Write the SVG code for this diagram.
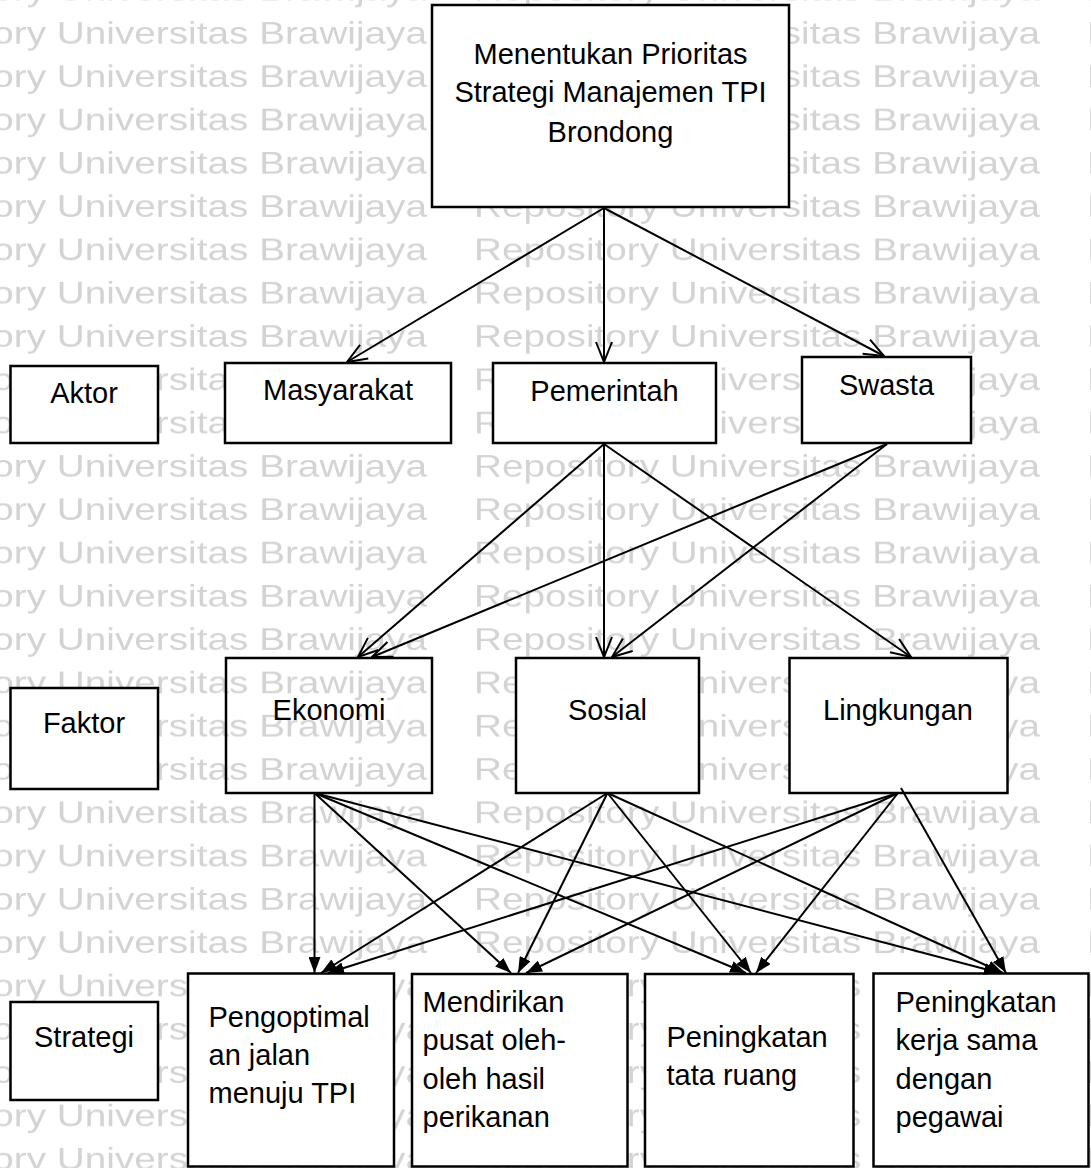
<svg xmlns="http://www.w3.org/2000/svg" width="1091" height="1168" viewBox="0 0 1091 1168">
<style>
.box{fill:#fff;stroke:#000;stroke-width:2.5}
.clear{fill:none;stroke:#000;stroke-width:2.5}
.t{font-family:"Liberation Sans",Arial,sans-serif;font-size:29px;fill:#000}
.c{text-anchor:middle}
.ln{stroke:#000;stroke-width:2;fill:none}
.open{marker-end:url(#open)}
.fill{marker-end:url(#solid)}
.wm{font-family:"Liberation Sans",Arial,sans-serif;font-size:31px;fill:#d3d3d3}
</style>
<defs>
<marker id="open" markerUnits="userSpaceOnUse" viewBox="0 0 22 18" refX="21" refY="9" markerWidth="22" markerHeight="18" orient="auto">
<path d="M1,1 L21,9 L1,17" fill="none" stroke="#000" stroke-width="2"/>
</marker>
<marker id="solid" markerUnits="userSpaceOnUse" viewBox="0 0 16 12" refX="16" refY="6" markerWidth="16" markerHeight="12" orient="auto">
<path d="M0,0 L16,6 L0,12 z" fill="#000"/>
</marker>
<pattern id="wmp" patternUnits="userSpaceOnUse" x="-139" y="9.3" width="613" height="43.3">
<text class="wm" x="0" y="34" textLength="566" lengthAdjust="spacingAndGlyphs">Repository Universitas Brawijaya</text>
</pattern>
</defs>
<rect width="1091" height="1168" fill="#fff"/>
<rect id="watermark" width="1091" height="1168" fill="url(#wmp)"/>

<g id="goal">
<rect class="box" x="432" y="5" width="357" height="202"/>
<text class="t c" x="610.5" y="63.5">Menentukan Prioritas</text>
<text class="t c" x="610.5" y="102">Strategi Manajemen TPI</text>
<text class="t c" x="610.5" y="141.5">Brondong</text>
</g>

<g id="label-aktor">
<rect class="box" x="10.5" y="366" width="147.5" height="77"/>
<text class="t c" x="84" y="403">Aktor</text>
</g>
<g id="masyarakat">
<rect class="box" x="225" y="363" width="226" height="80"/>
<text class="t c" x="338" y="400">Masyarakat</text>
</g>
<g id="pemerintah">
<rect class="box" x="493" y="363" width="223" height="80"/>
<text class="t c" x="604.5" y="400.5">Pemerintah</text>
</g>
<g id="swasta">
<rect class="box" x="802" y="357" width="169" height="86"/>
<text class="t c" x="886.5" y="395">Swasta</text>
</g>

<g id="label-faktor">
<rect class="box" x="10.5" y="688" width="147.5" height="101"/>
<text class="t c" x="84" y="733">Faktor</text>
</g>
<g id="ekonomi">
<rect class="clear" x="226" y="658" width="206" height="135"/>
<text class="t c" x="329" y="720">Ekonomi</text>
</g>
<g id="sosial">
<rect class="box" x="516" y="658" width="183" height="135"/>
<text class="t c" x="607.5" y="720">Sosial</text>
</g>
<g id="lingkungan">
<rect class="box" x="789.5" y="658" width="218" height="135"/>
<text class="t c" x="898" y="720">Lingkungan</text>
</g>

<g id="label-strategi">
<rect class="box" x="10.5" y="1002" width="147.5" height="98"/>
<text class="t c" x="84" y="1047">Strategi</text>
</g>
<g id="pengoptimalan">
<rect class="box" x="188" y="973.5" width="206" height="193"/>
<text class="t" x="208.5" y="1027">Pengoptimal</text>
<text class="t" x="208.5" y="1065">an jalan</text>
<text class="t" x="208.5" y="1103">menuju TPI</text>
</g>
<g id="pusat-oleh-oleh">
<rect class="box" x="412" y="974" width="215.5" height="192.5"/>
<text class="t" x="422.5" y="1012">Mendirikan</text>
<text class="t" x="422.5" y="1050">pusat oleh-</text>
<text class="t" x="422.5" y="1088.5">oleh hasil</text>
<text class="t" x="422.5" y="1127">perikanan</text>
</g>
<g id="tata-ruang">
<rect class="box" x="645" y="974" width="208.5" height="192.5"/>
<text class="t" x="666.5" y="1047">Peningkatan</text>
<text class="t" x="666.5" y="1085">tata ruang</text>
</g>
<g id="kerja-sama">
<rect class="box" x="873.5" y="973.5" width="215" height="193"/>
<text class="t" x="895.5" y="1012">Peningkatan</text>
<text class="t" x="895.5" y="1050">kerja sama</text>
<text class="t" x="895.5" y="1088.5">dengan</text>
<text class="t" x="895.5" y="1127">pegawai</text>
</g>

<g id="connectors">
<line class="ln open" x1="604" y1="208" x2="347" y2="362"/>
<line class="ln open" x1="604" y1="208" x2="604" y2="362"/>
<line class="ln open" x1="604" y1="208" x2="884" y2="356"/>

<line class="ln open" x1="604" y1="444" x2="358" y2="657"/>
<line class="ln open" x1="604" y1="444" x2="604" y2="657"/>
<line class="ln open" x1="604" y1="444" x2="911" y2="657"/>
<line class="ln open" x1="887" y1="444" x2="372" y2="657"/>
<line class="ln open" x1="887" y1="444" x2="612" y2="657"/>

<line class="ln fill" x1="314.5" y1="793" x2="314.5" y2="973"/>
<line class="ln fill" x1="314.5" y1="793" x2="511" y2="973"/>
<line class="ln fill" x1="314.5" y1="793" x2="746" y2="973"/>
<line class="ln fill" x1="314.5" y1="793" x2="1000" y2="973"/>

<line class="ln fill" x1="607.5" y1="793" x2="321" y2="973"/>
<line class="ln fill" x1="607.5" y1="793" x2="518" y2="973"/>
<line class="ln fill" x1="607.5" y1="793" x2="751" y2="973"/>
<line class="ln fill" x1="607.5" y1="793" x2="1003" y2="973"/>

<line class="ln fill" x1="898" y1="793" x2="328" y2="973"/>
<line class="ln fill" x1="898" y1="793" x2="526" y2="973"/>
<line class="ln fill" x1="898" y1="793" x2="756" y2="973"/>
<line class="ln fill" x1="901" y1="788" x2="1006" y2="973"/>
</g>
</svg>
